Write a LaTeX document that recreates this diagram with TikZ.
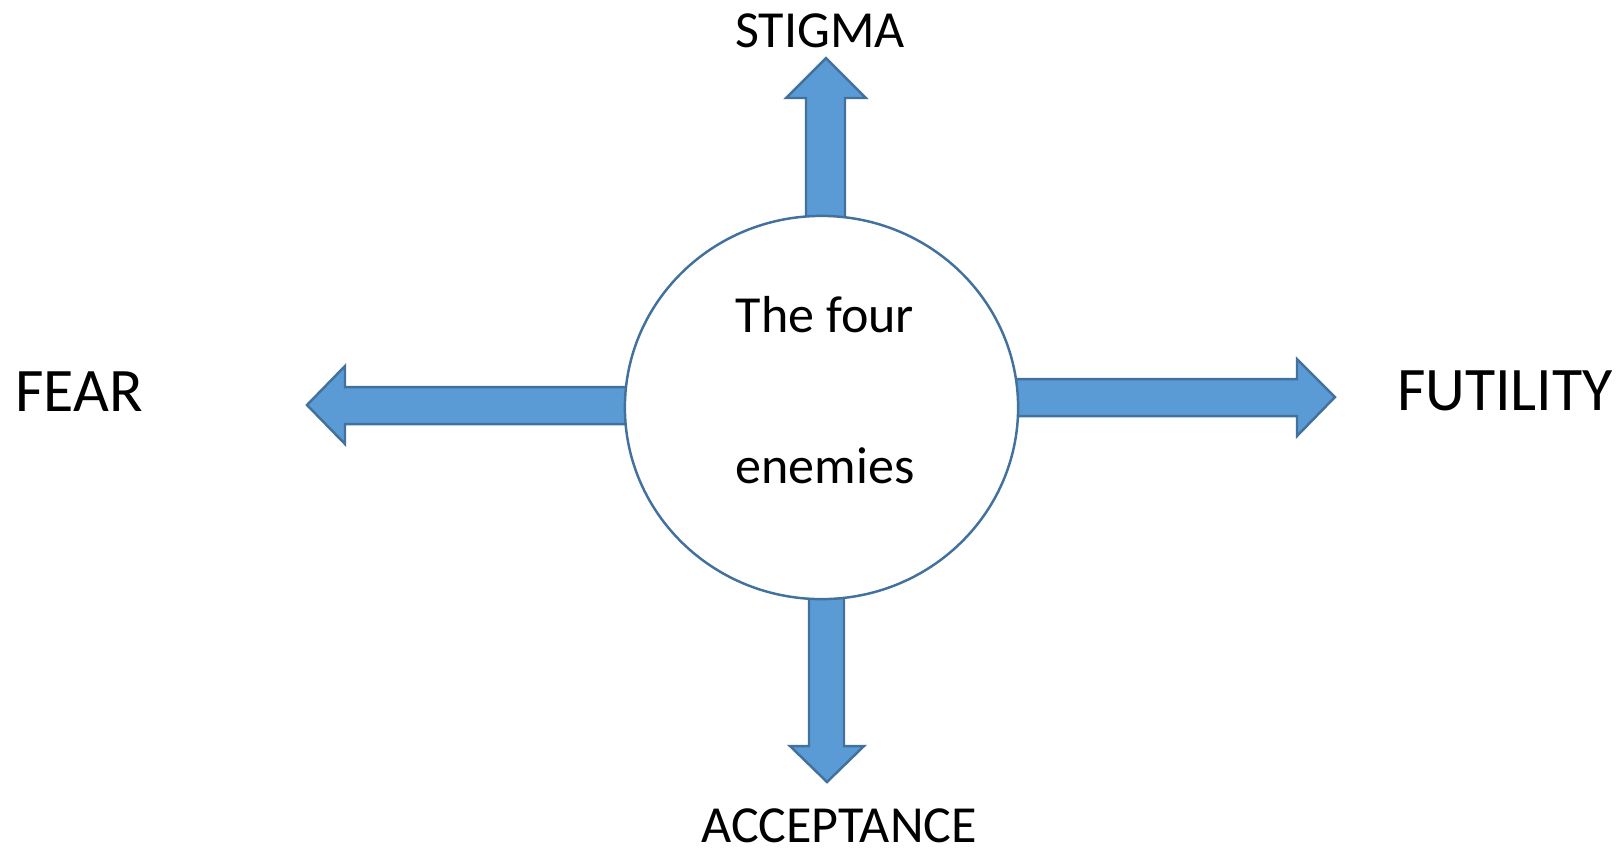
\documentclass[tikz,border=0pt]{standalone}
\usepackage{fontspec}
\setmainfont{Carlito}
\usepackage{tikz}
\usetikzlibrary{shapes.geometric, positioning}
\definecolor{arrowblue}{HTML}{5B9BD5}
\definecolor{edgeblue}{HTML}{41719C}

\tikzset{
  blockarrow/.style={fill=arrowblue, draw=edgeblue, line width=0.7pt, line join=miter},
  bigword/.style={font=\fontsize{17.6}{20}\selectfont, anchor=base, inner sep=0pt},
  word/.style={font=\fontsize{14.8}{17}\selectfont, anchor=base, inner sep=0pt}
}

\begin{document}
\begin{tikzpicture}[x=0.01cm, y=-0.01cm]
  \useasboundingbox (0,0) rectangle (1623,847);

  % Block arrows (drawn first, the circle covers their inner ends)
  \filldraw[blockarrow] (806,224) -- (806,98) -- (786,98) -- (826,58) -- (866,98) -- (845,98) -- (845,224) -- cycle;
  \filldraw[blockarrow] (633,387) -- (345,387) -- (345,366) -- (307,405) -- (345,444) -- (345,424) -- (633,424) -- cycle;
  \filldraw[blockarrow] (1010,379) -- (1297,379) -- (1297,359) -- (1335,397) -- (1297,436) -- (1297,416) -- (1010,416) -- cycle;
  \filldraw[blockarrow] (809,592) -- (809,746) -- (790,746) -- (827,782) -- (864,746) -- (844,746) -- (844,592) -- cycle;

  % Centre circle
  \node[ellipse, draw=edgeblue, fill=white, line width=0.7pt, inner sep=0pt,
        minimum width=3.93cm, minimum height=3.83cm] (core) at (821.5,407.5) {};
  \node[word] (line1) at (825,332) {The four};
  \node[word] (line2) at (825,483) {enemies};

  % Outer labels
  \node[word] (stigma) at (820,47) {STIGMA};
  \node[word] (acceptance) at (839,842) {ACCEPTANCE};
  \node[bigword] (fear) at (79,411) {FEAR};
  \node[bigword] (futility) at (1505,410) {FUTILITY};
\end{tikzpicture}
\end{document}
